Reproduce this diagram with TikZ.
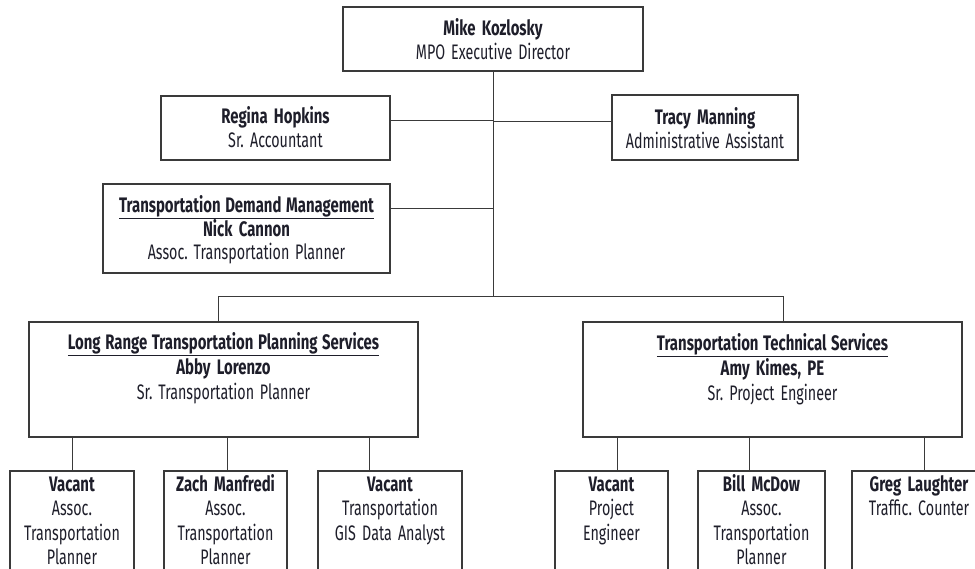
\documentclass[tikz,border=0pt]{standalone}
\usepackage{fontspec}
\setmainfont{Fira Sans}[FakeStretch=0.68, BoldFeatures={FakeStretch=0.71}]
\usepackage{xcolor}
\usetikzlibrary{positioning}
\definecolor{inkline}{HTML}{3A3A3A}
\definecolor{inktext}{HTML}{1E1E2A}

\begin{document}
\begin{tikzpicture}[x=1pt,y=-1pt,
  box/.style={draw=inkline, line width=1.1pt, inner sep=0pt, fill=white},
  txt/.style={inner sep=0pt, text width=380pt, align=center, text=inktext, font=\fontsize{21}{24.5}\selectfont,
    execute at begin node={\frenchspacing\spaceskip=4.6pt plus 0.5pt\relax}},
  link/.style={draw=inkline, line width=1pt}]
\clip (0,0) rectangle (975,569);
\fill[white] (0,0) rectangle (975,569);

% boxes, top part
\node[box, minimum width=300pt, minimum height=64pt] (mk) at (493,39) {}; %director%
\node[box, minimum width=229pt, minimum height=64pt] (rh) at (275.5,128) {}; %accountant%
\node[box, minimum width=186pt, minimum height=65pt] (tm) at (705,127.5) {}; %assistant%
\node[box, minimum width=287pt, minimum height=89pt] (tdm) at (246.5,228.5) {}; %demand management%
% boxes, sections
\node[box, minimum width=389pt, minimum height=115pt] (lr) at (223.5,379.5) {}; %long range%
\node[box, minimum width=379pt, minimum height=115pt] (tts) at (772.5,379.5) {}; %technical%
% boxes, staff
\node[box, minimum width=124pt, minimum height=120pt] (b1) at (72,531) {};
\node[box, minimum width=123pt, minimum height=120pt] (b2) at (225.5,531) {};
\node[box, minimum width=144pt, minimum height=120pt] (b3) at (390,531) {};
\node[box, minimum width=113pt, minimum height=120pt] (b4) at (611.5,531) {};
\node[box, minimum width=127pt, minimum height=120pt] (b5) at (761.5,531) {};
\node[box, minimum width=134pt, minimum height=120pt] (b6) at (919,531) {};

% texts, base = first baseline
\node[txt, font=\fontsize{21}{24}\selectfont, below=29pt of mk.north, anchor=base] (mkT) {{\bfseries Mike Kozlosky}\\MPO Executive Director};
\node[txt, below=28pt of rh.north, anchor=base] (rhT) {{\bfseries Regina Hopkins}\\Sr. Accountant};
\node[txt, below=30pt of tm.north, anchor=base] (tmT) {{\bfseries Tracy Manning}\\Administrative Assistant};
\node[txt, font=\fontsize{21}{23.7}\selectfont, below=29pt of tdm.north, anchor=base] (tdmT) {{\bfseries\underline{Transportation Demand Management}}\\{\bfseries Nick Cannon}\\Assoc. Transportation Planner};
\node[txt, font=\fontsize{21}{25}\selectfont, below=28pt of lr.north, anchor=base] (lrT) {{\bfseries\underline{Long Range Transportation Planning Services}}\\{\bfseries Abby Lorenzo}\\Sr. Transportation Planner};
\node[txt, font=\fontsize{21}{25}\selectfont, below=29pt of tts.north, anchor=base] (ttsT) {{\bfseries\underline{Transportation Technical Services}}\\{\bfseries Amy Kimes, PE}\\Sr. Project Engineer};
\node[txt, below=21pt of b1.north, anchor=base] (b1T) {{\bfseries Vacant}\\Assoc.\\Transportation\\Planner};
\node[txt, below=21pt of b2.north, anchor=base] (b2T) {{\bfseries Zach Manfredi}\\Assoc.\\Transportation\\Planner};
\node[txt, below=21pt of b3.north, anchor=base] (b3T) {{\bfseries Vacant}\\Transportation\\GIS Data Analyst};
\node[txt, below=21pt of b4.north, anchor=base] (b4T) {{\bfseries Vacant}\\Project\\Engineer};
\node[txt, below=21pt of b5.north, anchor=base] (b5T) {{\bfseries Bill McDow}\\Assoc.\\Transportation\\Planner};
\node[txt, below=21pt of b6.north, anchor=base] (b6T) {{\bfseries Greg Laughter}\\Traffic. Counter};

% connectors
\coordinate (bus) at (493,297);
\coordinate (rhE) at ([yshift=7pt]rh.east);
\coordinate (tmW) at ([yshift=5.5pt]tm.west);
\coordinate (tdmE) at ([yshift=19.5pt]tdm.east);
\coordinate (lrD) at (218,297);
\coordinate (ttsD) at (783,297);
\draw[link] (mk.south) -- (bus); %trunk%
\draw[link] (rhE) -- (rhE -| bus);
\draw[link] (tmW) -- (tmW -| bus);
\draw[link] (tdmE) -- (tdmE -| bus);
\draw[link] (lr.north -| lrD) -- (lrD) -- (ttsD) -- (tts.north -| ttsD); %bus%
% drops to staff
\foreach \dx/\kid/\sec in {72/b1/lr,227/b2/lr,369/b3/lr,617/b4/tts,749/b5/tts,924/b6/tts}{
  \coordinate (d) at (\dx,0);
  \draw[link] (\sec.south -| d) -- (\kid.north -| d);
}

\end{tikzpicture}
\end{document}
